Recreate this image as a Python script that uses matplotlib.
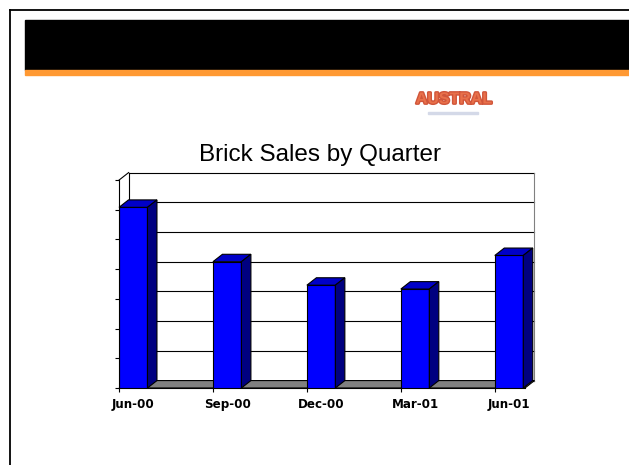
import matplotlib
matplotlib.use("Agg")
import matplotlib.pyplot as plt
from matplotlib.patches import Polygon, Rectangle
import matplotlib.patheffects as pe

# ---------- DATA ----------
quarters = ['Jun-00', 'Sep-00', 'Dec-00', 'Mar-01', 'Jun-01']
sales = [6.08, 4.25, 3.46, 3.33, 4.46]
y_levels = list(range(0, 8))

# ---------- STYLE ----------
W = 0.303          # bar width (category units)
DX, DY = 0.101, 0.25  # 3d depth offset (data units)
FRONT, TOP, SIDE = '#0000ff', '#0000c8', '#000080'

fig = plt.figure(figsize=(6.29, 4.65), dpi=100)

# ---------- SLIDE DECORATION ----------
fig.add_artist(plt.Line2D([9.5/629, 9.5/629], [0, 1 - 10/465], color='black', lw=1.3))
fig.add_artist(plt.Line2D([9.5/629, 1], [1 - 10/465, 1 - 10/465], color='black', lw=1.3))
fig.add_artist(Rectangle((25/629, 1 - 70/465), 1, 50/465, color='black', transform=fig.transFigure))
fig.add_artist(Rectangle((25/629, 1 - 75/465), 1, 5/465, color='#ff9933', transform=fig.transFigure))
fig.text(454/629, 1 - 99/465, 'AUSTRAL', ha='center', va='center', fontsize=11.5,
         fontweight='bold', family='Liberation Sans', color='#e8704a',
         path_effects=[pe.withStroke(linewidth=2, foreground='#d0553a')])
fig.add_artist(Rectangle((428/629, 1 - 114/465), 50/629, 1.5/465, color='#d4d9e8', transform=fig.transFigure))

fig.text(320/629, 1 - 161/465, 'Brick Sales by Quarter', ha='center', va='baseline',
         fontsize=17.5, family='Liberation Sans')

# ---------- CHART ----------
ax = fig.add_axes([119/629, 77/465, 406/629, 208/465])
x = list(range(len(quarters)))
x0, x1 = -0.15, 4.17
ax.set_xlim(x0, x1)
ax.set_ylim(0, 7)

# back wall gridlines
for k in y_levels:
    ax.plot([x0 + DX, x1 + DX], [k + DY, k + DY], color='black', lw=0.8,
            clip_on=False, zorder=1)
ax.plot([x1 + DX, x1 + DX], [DY, 7 + DY], color='#808080', lw=0.8, clip_on=False, zorder=1)
ax.plot([x0 + DX, x0 + DX], [DY, 7 + DY], color='black', lw=0.8, clip_on=False, zorder=1)
ax.plot([x0, x0 + DX], [7, 7 + DY], color='black', lw=0.8, clip_on=False, zorder=1)

# floor
ax.add_patch(Polygon([(x0, 0), (x1, 0), (x1 + DX, DY), (x0 + DX, DY)], closed=True,
                     facecolor='#808080', edgecolor='black', lw=0.8, clip_on=False, zorder=2))

# bars
ax.bar(x, sales, width=W, color=FRONT, edgecolor='black', linewidth=0.8, zorder=3)
for xi, v in zip(x, sales):
    l, r = xi - W / 2, xi + W / 2
    ax.add_patch(Polygon([(l, v), (r, v), (r + DX, v + DY), (l + DX, v + DY)], closed=True,
                         facecolor=TOP, edgecolor='black', lw=0.8, clip_on=False, zorder=3))
    ax.add_patch(Polygon([(r, 0), (r + DX, DY), (r + DX, v + DY), (r, v)], closed=True,
                         facecolor=SIDE, edgecolor='black', lw=0.8, clip_on=False, zorder=3))

# axes styling
for s in ['top', 'right']:
    ax.spines[s].set_visible(False)
ax.spines['left'].set_linewidth(0.8)
ax.spines['bottom'].set_linewidth(0.8)
ax.spines['left'].set_zorder(4)
ax.set_yticks(y_levels)
ax.set_yticklabels([])
ax.tick_params(axis='y', length=3, width=0.8)
ax.set_xticks(x)
ax.set_xticklabels(quarters, fontsize=8.6, fontweight='bold', family='DejaVu Sans')
ax.tick_params(axis='x', length=0, pad=7.5)
ax.set_xticks([xi - W / 2 for xi in x], minor=True)
ax.tick_params(axis='x', which='minor', length=3, width=0.8)
ax.patch.set_alpha(0)

plt.savefig('out.png', dpi=100)
